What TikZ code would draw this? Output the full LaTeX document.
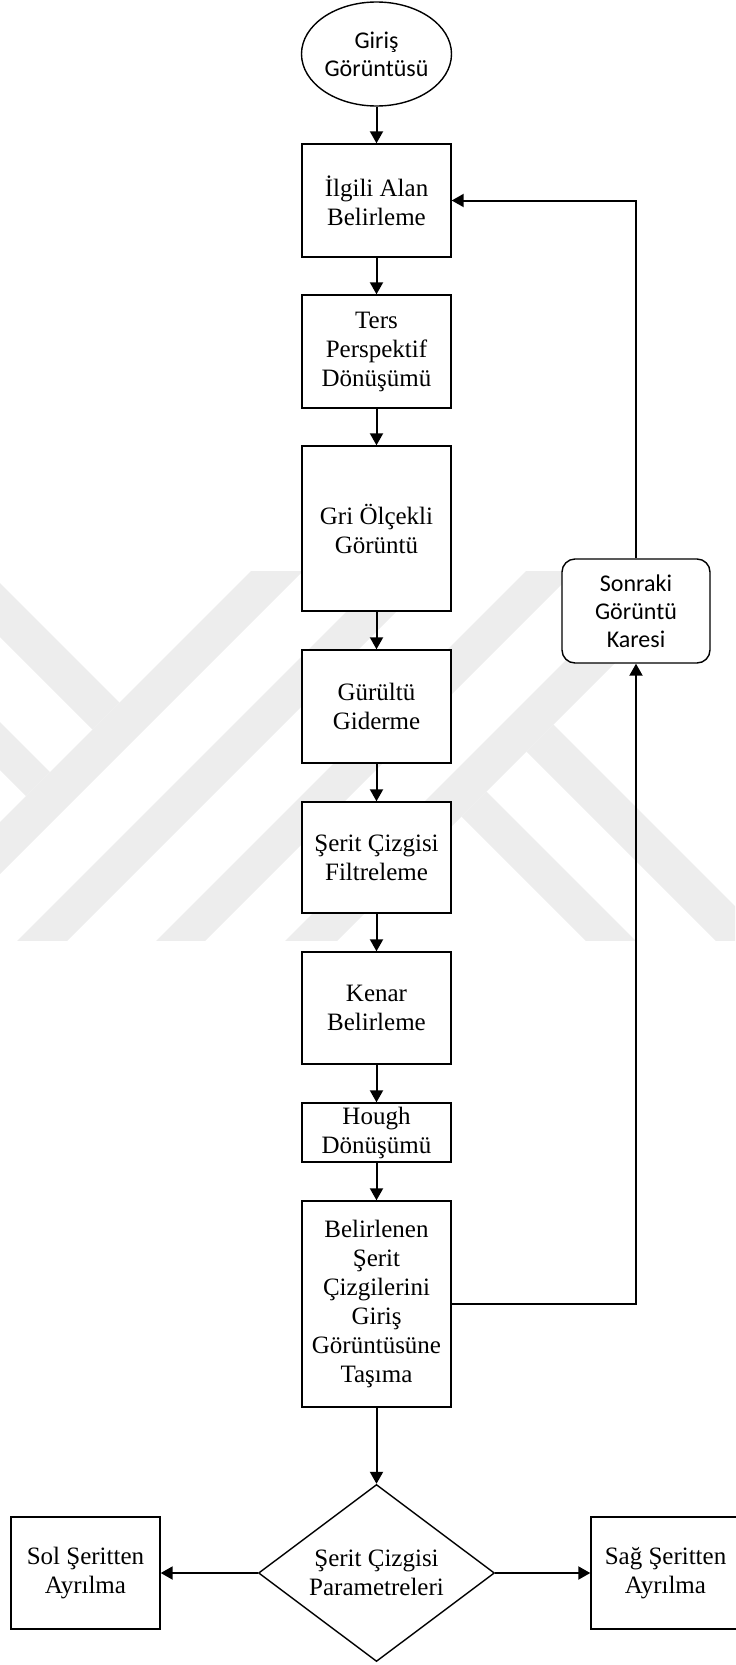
\documentclass[tikz,border=0pt]{standalone}
\usepackage{fontspec}
\setmainfont{Liberation Serif}
\newfontfamily\calibri{Carlito}
\usetikzlibrary{shapes.geometric,arrows.meta}
\tikzset{
  box/.style={draw, line width=0.7pt, fill=white, minimum width=74.5pt,
        align=center, inner sep=1pt,
        font=\fontsize{12.5}{14.5}\selectfont},
  sansbox/.style={box, font=\calibri\fontsize{12}{14}\selectfont},
  flow/.style={line width=1pt, -{Triangle[length=6pt,width=6.5pt]}},
  wm/.style={fill=black!7}
}

\begin{document}
\begin{tikzpicture}[x=0.5pt,y=-0.5pt]
\useasboundingbox (0,0) rectangle (735,1665);
% faint watermark
\begin{scope}
  \clip (0,571) rectangle (735,940);
  \fill[wm] (282,540) -- (334,540) -- (-106,980) -- (-158,980) -- cycle;
  \fill[wm] (418,540) -- (468,540) -- (28,980) -- (-22,980) -- cycle;
  \fill[wm] (557,540) -- (606,540) -- (166,980) -- (117,980) -- cycle;
  \fill[wm] (686,540) -- (738,540) -- (298,980) -- (246,980) -- cycle;
  \fill[wm] (119.5,702.5) -- (92.5,729.5) -- (-100,537) -- (-100,483) -- cycle;
  \fill[wm] (50,772) -- (26,796) -- (-100,670) -- (-100,622) -- cycle;
  \fill[wm] (553.5,724.5) -- (526.5,751.5) -- (800,1025) -- (800,971) -- cycle;
  \fill[wm] (486.5,791.5) -- (461.5,816.5) -- (800,1155) -- (800,1105) -- cycle;
\end{scope}

\node[sansbox, ellipse, minimum width=75pt, minimum height=52pt, inner sep=0pt] (giris) at (376.5,54) {Giriş\\Görüntüsü};
\node[box, minimum height=56.5pt] (ilgili) at (376.5,200.5) {İlgili Alan\\Belirleme};
\node[box, minimum height=56.5pt] (ters) at (376.5,351.5) {Ters\\Perspektif\\Dönüşümü};
\node[box, minimum height=82.5pt] (gri) at (376.5,528.5) {Gri Ölçekli\\Görüntü};
\node[box, minimum height=56.5pt] (gurultu) at (376.5,706.5) {Gürültü\\Giderme};
\node[box, minimum height=55.5pt] (filtre) at (376.5,857.5) {Şerit Çizgisi\\Filtreleme};
\node[box, minimum height=56pt] (kenar) at (376.5,1008) {Kenar\\Belirleme};
\node[box, minimum height=29.5pt] (hough) at (376.5,1132.5) {Hough\\Dönüşümü};
\node[box, minimum height=103pt] (tasima) at (376.5,1304) {Belirlenen\\Şerit\\Çizgilerini\\Giriş\\Görüntüsüne\\Taşıma};
\node[box, diamond, aspect=1.33, minimum width=118pt, minimum height=88.5pt, inner sep=0pt] (param) at (376.5,1573) {Şerit Çizgisi\\Parametreleri};
\node[box, minimum height=56pt] (sol) at (85.5,1573) {Sol Şeritten\\Ayrılma};
\node[box, minimum height=56pt] (sag) at (665.5,1573) {Sağ Şeritten\\Ayrılma};
\node[sansbox, rounded corners=6.5pt, minimum width=74pt, minimum height=52pt] (sonraki) at (636,611) {Sonraki\\Görüntü\\Karesi};

\foreach \a/\b in {giris/ilgili, ilgili/ters, ters/gri, gri/gurultu, gurultu/filtre,
                   filtre/kenar, kenar/hough, hough/tasima, tasima/param}
  \draw[flow] (\a) -- (\b);
\draw[flow] (param) -- (sol);
\draw[flow] (param) -- (sag);
\draw[flow] (tasima.east) -| (sonraki);
\draw[flow] (sonraki) |- (ilgili);
\end{tikzpicture}
\end{document}
